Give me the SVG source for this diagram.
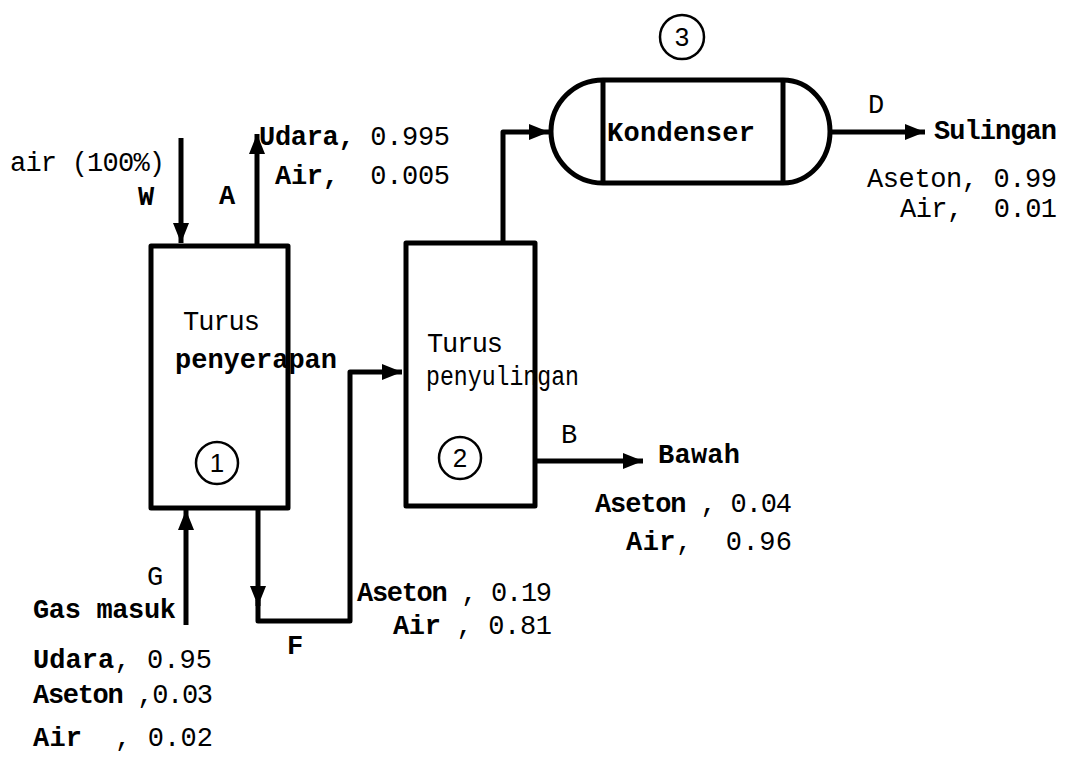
<svg xmlns="http://www.w3.org/2000/svg" width="1067" height="759" viewBox="0 0 1067 759" xml:space="preserve">
<style>
.t{font-family:"Liberation Mono","DejaVu Sans Mono",monospace;font-size:27px;fill:#000;white-space:pre}
.b{font-weight:bold}
.box{fill:none;stroke:#000;stroke-width:5;stroke-linejoin:round}
.ln{fill:none;stroke:#000;stroke-width:5;stroke-linejoin:round}
.c{fill:none;stroke:#000;stroke-width:2.5}
.n{font-family:"Liberation Sans","DejaVu Sans",sans-serif;font-size:26px;fill:#000}
</style>
<defs>
<marker id="ah" viewBox="0 0 10 10" refX="10" refY="5" markerWidth="4" markerHeight="4" orient="auto" markerUnits="strokeWidth">
<path d="M0,1 L10,5 L0,9 Z" fill="#000"/>
</marker>
</defs>
<g id="connectors">
<line class="ln" x1="181" y1="138" x2="181" y2="243" marker-end="url(#ah)"/>
<line class="ln" x1="257" y1="245" x2="257" y2="134" marker-end="url(#ah)"/>
<line class="ln" x1="186" y1="625" x2="186" y2="510" marker-end="url(#ah)"/>
<path class="ln" d="M258,508 L258,606" marker-end="url(#ah)"/>
<path class="ln" d="M258,600 L258,621 L350,621 L350,372 L402,372" marker-end="url(#ah)"/>
<path class="ln" d="M503,243 L503,132 L549,132" marker-end="url(#ah)"/>
<line class="ln" x1="830" y1="132" x2="925" y2="132" marker-end="url(#ah)"/>
<line class="ln" x1="535" y1="461" x2="643" y2="461" marker-end="url(#ah)"/>
</g>
<g id="node1">
<rect class="box" x="151" y="246" width="137" height="262"/>
<text class="t" x="183" y="330" textLength="77">Turus</text>
<text class="t b" x="175" y="368" textLength="162">penyerapan</text>
<circle class="c" cx="217" cy="463" r="21"/>
<text class="n" x="217" y="472" text-anchor="middle">1</text>
</g>
<g id="node2">
<rect class="box" x="406" y="243" width="129" height="263"/>
<text class="t" x="427" y="352" textLength="76">Turus</text>
<text class="t" x="426" y="385" textLength="153" lengthAdjust="spacingAndGlyphs">penyulingan</text>
<circle class="c" cx="460" cy="458" r="21"/>
<text class="n" x="460" y="467" text-anchor="middle">2</text>
</g>
<g id="node3">
<path class="box" d="M603,80 L783,80 A47,51.5 0 0 1 783,183 L603,183 A52,51.5 0 0 1 603,80 Z"/>
<line class="ln" x1="603" y1="80" x2="603" y2="183"/>
<line class="ln" x1="783" y1="80" x2="783" y2="183"/>
<text class="t b" x="607" y="141" textLength="148">Kondenser</text>
<circle class="c" cx="682" cy="37" r="22"/>
<text class="n" x="682" y="46" text-anchor="middle">3</text>
</g>
<g id="labels">
<text class="t" x="10" y="171" textLength="155">air (100%)</text>
<text class="t b" x="138" y="205">W</text>
<text class="t b" x="219" y="204">A</text>
<text class="t" x="259" y="145" textLength="191"><tspan class="b">Udara,</tspan> 0.995</text>
<text class="t" x="275" y="184" textLength="175"><tspan class="b">Air,</tspan>  0.005</text>
<text class="t" x="868" y="113">D</text>
<text class="t b" x="934" y="139" textLength="123">Sulingan</text>
<text class="t" x="867" y="187" textLength="190">Aseton, 0.99</text>
<text class="t" x="900" y="217" textLength="157">Air,  0.01</text>
<text class="t" x="561" y="443">B</text>
<text class="t b" x="658" y="463" textLength="82">Bawah</text>
<text class="t" x="595" y="512" textLength="197"><tspan class="b">Aseton</tspan> , 0.04</text>
<text class="t" x="626" y="550" textLength="166"><tspan class="b">Air</tspan>,  0.96</text>
<text class="t" x="147" y="585">G</text>
<text class="t b" x="33" y="618" textLength="143">Gas masuk</text>
<text class="t" x="33" y="668" textLength="179"><tspan class="b">Udara</tspan>, 0.95</text>
<text class="t" x="33" y="703" textLength="180"><tspan class="b">Aseton</tspan> ,0.03</text>
<text class="t" x="33" y="746" textLength="180"><tspan class="b">Air</tspan>  , 0.02</text>
<text class="t b" x="287" y="654">F</text>
<text class="t" x="357" y="601" textLength="195"><tspan class="b">Aseton</tspan> , 0.19</text>
<text class="t" x="393" y="634" textLength="159"><tspan class="b">Air</tspan> , 0.81</text>
</g>
</svg>
